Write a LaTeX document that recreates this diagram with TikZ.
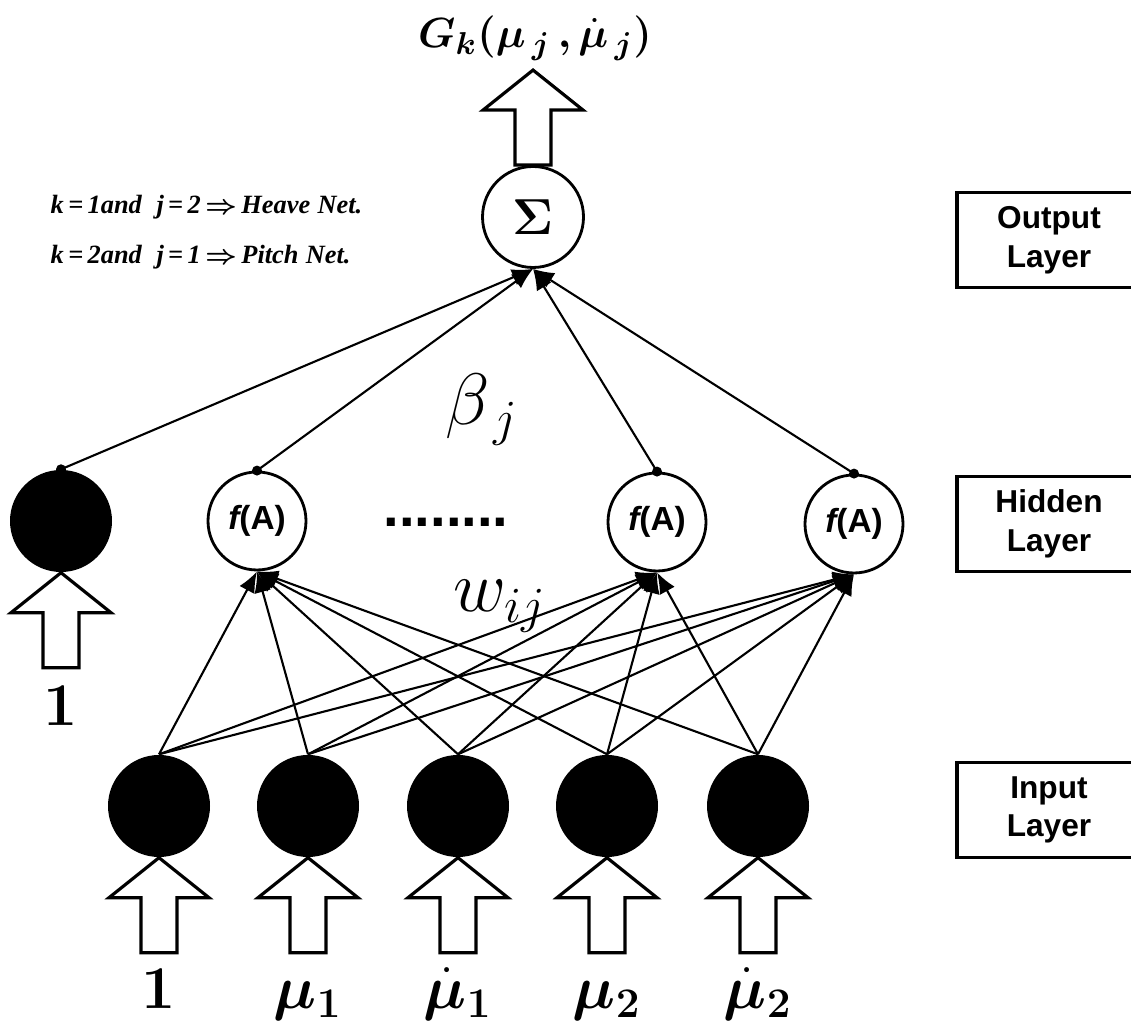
\documentclass[tikz,border=0pt]{standalone}
\usepackage{fontspec}
\usepackage{amsmath}
\usepackage{bm}
\usetikzlibrary{arrows.meta}
\newfontfamily\labelfont{Liberation Sans}
\newfontfamily\notefont{Liberation Serif}

\begin{document}
\begin{tikzpicture}[x=0.1mm,y=-0.1mm,
    inputnode/.style={circle,fill=black,minimum size=10.2mm,inner sep=0pt},
    hiddennode/.style={circle,draw,line width=0.8pt,minimum size=9.8mm,inner sep=0pt,
      font=\fontsize{9.5}{11}\selectfont\labelfont\bfseries},
    sumnode/.style={circle,draw,line width=0.8pt,minimum size=10.1mm,inner sep=0pt,
      font=\fontsize{14}{16}\selectfont},
    layerbox/.style={draw,line width=0.9pt,minimum width=18.4mm,minimum height=9.5mm,
      align=center,font=\fontsize{9}{11}\selectfont\labelfont\bfseries},
    biglabel/.style={anchor=base,font=\fontsize{18}{20}\selectfont},
    note/.style={anchor=west,inner sep=0pt,font=\fontsize{7.5}{9}\selectfont\notefont\bfseries\itshape},
    conn/.style={line width=0.6pt,-{Latex[length=2.1mm,width=1.7mm]}},
    blockarrow/.pic={
      \draw[line width=0.9pt,fill=white,line join=miter]
        (0,0) -- (50,40) -- (18,40) -- (18,95) -- (-18,95) -- (-18,40) -- (-50,40) -- cycle;
    }]
  \useasboundingbox (0,0) rectangle (1131,1028);

  % Input layer
  \node[inputnode] (in1) at (159,806) {};
  \node[inputnode] (in2) at (308,806) {};
  \node[inputnode] (in3) at (458,806) {};
  \node[inputnode] (in4) at (607,806) {};
  \node[inputnode] (in5) at (758,806) {};
  \foreach \i in {1,...,5}
    \pic at (in\i.south) {blockarrow};
  \node[biglabel] (x1) at (159,1008) {$\bm{1}$};
  \node[biglabel] (x2) at (308,1008) {$\bm{\mu_1}$};
  \node[biglabel] (x3) at (458,1008) {$\bm{\dot{\mu}_1}$};
  \node[biglabel] (x4) at (607,1008) {$\bm{\mu_2}$};
  \node[biglabel] (x5) at (758,1008) {$\bm{\dot{\mu}_2}$};

  % Hidden layer
  \node[inputnode] (hb) at (61,521) {};
  \node[hiddennode] (h1) at (257,521) {\itshape f\upshape (A)};
  \node[hiddennode] (h2) at (657,522) {\itshape f\upshape (A)};
  \node[hiddennode] (h3) at (854,524) {\itshape f\upshape (A)};
  \pic at (hb.south) {blockarrow};
  \node[biglabel] (xb) at (61,726) {$\bm{1}$};
  \node (dots) at (446,522) {\fontsize{16}{18}\selectfont\labelfont\bfseries ........};

  % Output layer
  \node[sumnode] (sum) at (533,217) {$\bm{\Sigma}$};
  \pic at ([yshift=9.5mm]sum.north) {blockarrow};
  \node (out) at (535,38) {\fontsize{13}{15}\selectfont$\bm{G_k(\mu_{\,j}\,,\dot{\mu}_{\,j})}$};

  % Weights w_ij
  \foreach \i in {1,...,5}
    \foreach \h in {1,2,3}
      \draw[conn] (in\i.north) -- (h\h.south);

  % Weights beta_j
  \foreach \h in {hb,h1,h2,h3} {
    \draw[conn] (\h.north) -- (sum.south);
    \fill (\h.north) circle (0.5mm);
  }

  \node (beta) at (482,410) {\fontsize{21}{24}\selectfont$\beta_{\,j}$};
  \node (wij) at (500,606) {\fontsize{20}{24}\selectfont$w_{ij}$};

  % Net definitions
  \node[note] (heave) at (50,207) {k\,=\,1and\;\;j\,=\,2\,$\bm{\Rightarrow}$\,Heave\;Net.};
  \node[note] (pitch) at (50,257) {k\,=\,2and\;\;j\,=\,1\,$\bm{\Rightarrow}$\,Pitch\;Net.};

  % Layer names
  \node[layerbox] (outbox) at (1049,240) {Output\\Layer};
  \node[layerbox] (hidbox) at (1049,524) {Hidden\\Layer};
  \node[layerbox] (inbox) at (1049,810) {Input\\Layer};
\end{tikzpicture}
\end{document}
